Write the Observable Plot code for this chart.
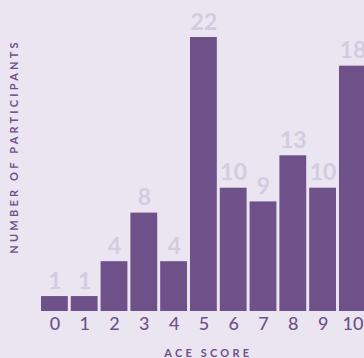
<!DOCTYPE html>
<html>
<head>
<meta charset="utf-8">
<script src="https://cdn.jsdelivr.net/npm/d3@7"></script>
<script src="https://cdn.jsdelivr.net/npm/@observablehq/plot@0.6"></script>
<style>
  html, body { margin: 0; padding: 0; background: #ebe5f1; }
  #chart svg { display: block; }
</style>
</head>
<body>
<div id="chart"></div>
<script>
// ACE score categories
const scores = ["0", "1", "2", "3", "4", "5", "6", "7", "8", "9", "10"];
// Bar heights as drawn in the picture
const counts = [1.2, 1.2, 4, 7.9, 4, 22, 9.9, 8.8, 12.5, 9.9, 19.7];
// Printed labels above the bars
const valueLabels = ["1", "1", "4", "8", "4", "22", "10", "9", "13", "10", "18"];

const data = scores.map((s, i) => ({score: s, count: counts[i], label: valueLabels[i]}));

const purple = "#6e5189";
const pale = "#d3cbdf";
const bg = "#ebe5f1";

const chart = Plot.plot({
  width: 364,
  height: 358,
  marginTop: 37,
  marginBottom: 47,
  marginLeft: 39.5,
  marginRight: 0,
  style: {background: bg, fontFamily: "Lato, sans-serif", overflow: "hidden"},
  x: {domain: scores, range: [39.5, 367.3], round: false, paddingInner: 0.1, paddingOuter: 0.05, label: null},
  y: {domain: [0, 22], axis: null},
  marks: [
    Plot.barY(data, {x: "score", y: "count", fill: purple}),
    Plot.text(data, {x: "score", y: "count", text: "label", dy: -8, lineAnchor: "bottom",
      fill: pale, fontSize: 23, fontWeight: 700}),
    Plot.axisX({tickSize: 0, tickPadding: 6, fontSize: 18, fontWeight: 500, color: purple, label: null}),
    Plot.text(["ACE SCORE"], {frameAnchor: "bottom", dy: 38, dx: 6, lineAnchor: "top", textAnchor: "middle",
      fill: purple, fontSize: 11, fontWeight: 700}),
    Plot.text(["NUMBER OF PARTICIPANTS"], {frameAnchor: "left", rotate: -90, textAnchor: "middle",
      dx: -25.5, dy: -28, fill: purple, fontSize: 11, fontWeight: 700})
  ]
});
chart.querySelectorAll("text").forEach(t => {
  if (t.textContent === "ACE SCORE" || t.textContent === "NUMBER OF PARTICIPANTS") {
    t.style.letterSpacing = "3.2px";
  }
});
document.getElementById("chart").appendChild(chart);
</script>
</body>
</html>
